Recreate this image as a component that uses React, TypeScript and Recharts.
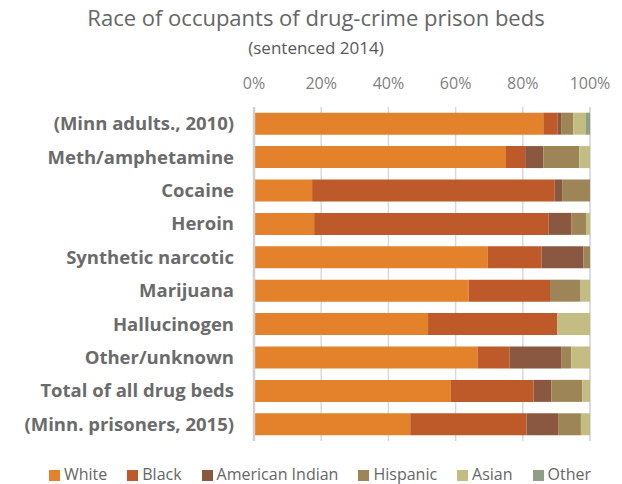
import { Bar, BarChart, CartesianGrid, Legend, XAxis, YAxis } from "recharts";

const categories = [
  "(Minn adults., 2010)",
  "Meth/amphetamine",
  "Cocaine",
  "Heroin",
  "Synthetic narcotic",
  "Marijuana",
  "Hallucinogen",
  "Other/unknown",
  "Total of all drug beds",
  "(Minn. prisoners, 2015)",
];

const white = [86.1, 75.0, 17.3, 17.9, 69.6, 63.9, 51.8, 66.5, 58.6, 46.5];
const black = [4.3, 5.7, 72.1, 69.8, 16.0, 24.2, 38.4, 9.6, 24.6, 34.6];
const americanIndian = [1.0, 5.4, 2.3, 6.7, 12.4, 0, 0, 15.3, 5.3, 9.4];
const hispanic = [3.6, 10.7, 8.3, 4.4, 2.0, 9.1, 0, 3.0, 9.2, 6.8];
const asian = [3.8, 3.2, 0, 1.2, 0, 2.8, 9.8, 5.6, 2.3, 2.7];
const other = [1.2, 0, 0, 0, 0, 0, 0, 0, 0, 0];

const xTicks = [0, 20, 40, 60, 80, 100];

const series = [
  { key: "White", color: "#E3822A" },
  { key: "Black", color: "#BE5A2A" },
  { key: "American Indian", color: "#8A5841" },
  { key: "Hispanic", color: "#9E8557" },
  { key: "Asian", color: "#C4BD83" },
  { key: "Other", color: "#8F9E86" },
];

const data = categories.map((name, i) => ({
  name,
  White: white[i],
  Black: black[i],
  "American Indian": americanIndian[i],
  Hispanic: hispanic[i],
  Asian: asian[i],
  Other: other[i],
}));

const font = "'Open Sans', Lato, sans-serif";

export default function App() {
  return (
    <div style={{ position: "absolute", left: 0, top: 0, width: 622, height: 484, fontFamily: font }}>
      <div
        style={{
          position: "absolute",
          top: 2,
          left: 0,
          width: 632,
          textAlign: "center",
          fontSize: 22,
          color: "#666666",
        }}
      >
        Race of occupants of drug-crime prison beds
      </div>
      <div
        style={{
          position: "absolute",
          top: 36,
          left: 0,
          width: 632,
          textAlign: "center",
          fontSize: 17,
          color: "#595959",
        }}
      >
        (sentenced 2014)
      </div>
      <BarChart
        width={622}
        height={484}
        data={data}
        layout="vertical"
        margin={{ top: 77, right: 32, bottom: 21, left: 0 }}
        barCategoryGap="17%"
      >
        <CartesianGrid horizontal={false} stroke="#D9D9D9" strokeWidth={1.5} />
        <XAxis
          type="number"
          orientation="top"
          domain={[0, 100]}
          ticks={xTicks}
          tickFormatter={(v) => `${v}%`}
          axisLine={false}
          tickLine={false}
          tickMargin={12}
          tick={{ fill: "#7F7F7F", fontSize: 16, fontFamily: font }}
        />
        <YAxis
          type="category"
          dataKey="name"
          width={254}
          axisLine={{ stroke: "#D0D0D0", strokeWidth: 2.5 }}
          tickLine={false}
          tickMargin={14}
          tick={{ fill: "#6B6B6B", fontSize: 18.5, fontWeight: 700, fontFamily: font }}
        />
        <Legend
          verticalAlign="bottom"
          iconType="square"
          iconSize={11}
          itemSorter={null as any}
          wrapperStyle={{ top: 463, left: 12, width: 636, fontSize: 16, fontFamily: font, color: "#666666" }}
          formatter={(value) => <span style={{ color: "#666666", marginRight: 10 }}>{value}</span>}
        />
        {series.map((s) => (
          <Bar key={s.key} dataKey={s.key} stackId="a" fill={s.color} isAnimationActive={false} />
        ))}
      </BarChart>
    </div>
  );
}
